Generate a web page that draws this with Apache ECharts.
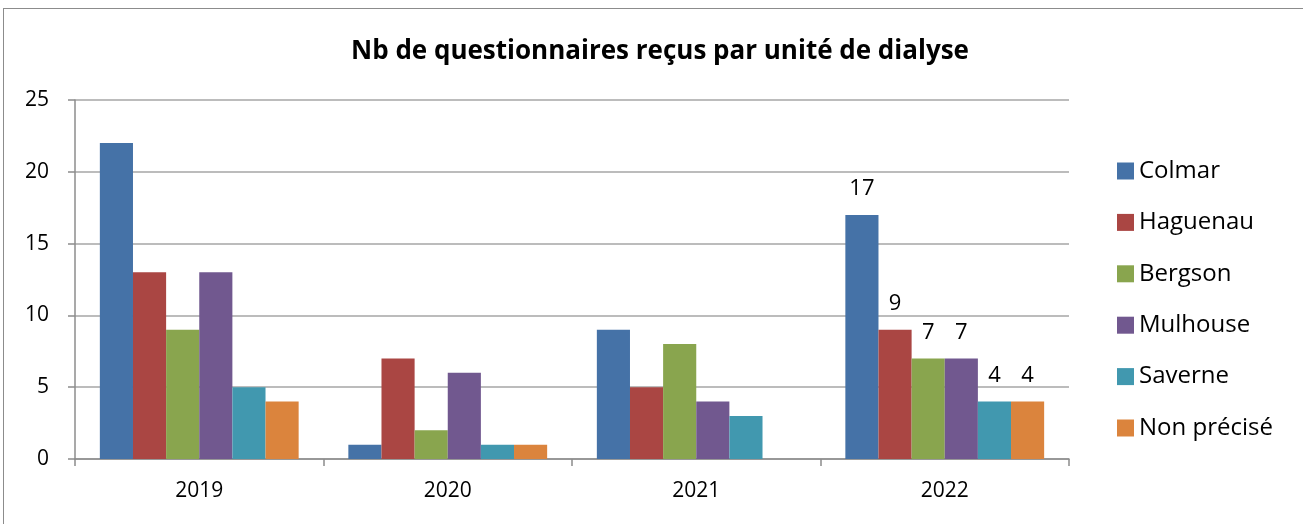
<!DOCTYPE html>
<html style="height: 100%">
<head>
    <meta charset="UTF-8">
    <title>Nb de questionnaires</title>
    <script src="https://cdn.jsdelivr.net/npm/echarts@6.0.0/dist/echarts.min.js"></script>
    <style>
        body { margin: 0; background: #fff; overflow: hidden; }
        #frame {
            position: absolute; left: 3px; top: 8px; width: 1320px; height: 530px;
            border: 1px solid #8c8c8c; box-sizing: border-box;
        }
        #chart { position: absolute; left: 0; top: 0; width: 1303px; height: 524px; }
    </style>
</head>
<body>
    <div id="frame"></div>
    <div id="chart"></div>
    <script>
        var years = ['2019', '2020', '2021', '2022'];
        var colmar = [22, 1, 9, 17];
        var haguenau = [13, 7, 5, 9];
        var bergson = [9, 2, 8, 7];
        var mulhouse = [13, 6, 4, 7];
        var saverne = [5, 1, 3, 4];
        var nonPrecise = [4, 1, 0, 4];

        var names = ['Colmar', 'Haguenau', 'Bergson', 'Mulhouse', 'Saverne', 'Non précisé'];
        var values = [colmar, haguenau, bergson, mulhouse, saverne, nonPrecise];
        var colors = ['#4572a7', '#aa4643', '#89a54e', '#71588f', '#4198af', '#db843d'];

        var font = '"Open Sans", "DejaVu Sans", sans-serif';

        // une seule année porte les étiquettes (2022)
        var series = names.map(function (n, i) {
            return {
                name: n,
                type: 'bar',
                barGap: '0%',
                barCategoryGap: '20%',
                itemStyle: { color: colors[i] },
                data: values[i].map(function (v, j) {
                    var d = { value: v };
                    if (j === 3) {
                        d.label = { show: true, position: 'top', distance: 15,
                            color: '#000', fontSize: 22, fontFamily: font };
                    }
                    return d;
                })
            };
        });

        var chart = echarts.init(document.getElementById('chart'));
        chart.setOption({
            animation: false,
            title: {
                text: 'Nb de questionnaires reçus par unité de dialyse',
                left: 655, top: 34, textAlign: 'center',
                textStyle: { fontSize: 26, fontWeight: 'bold', color: '#000', fontFamily: font }
            },
            legend: {
                orient: 'vertical',
                left: 1112, top: 154,
                itemWidth: 17, itemHeight: 17, itemGap: 27.4, icon: 'rect',
                textStyle: { fontSize: 24, lineHeight: 24, color: '#000', fontFamily: font }
            },
            grid: { left: 75, right: 234, top: 100, bottom: 65, containLabel: false },
            xAxis: {
                type: 'category',
                data: years,
                axisLine: { lineStyle: { color: '#8c8c8c', width: 1.5 } },
                axisTick: { show: true, length: 7, lineStyle: { color: '#8c8c8c', width: 1.5 } },
                axisLabel: { color: '#000', fontSize: 21, margin: 22, fontFamily: font }
            },
            yAxis: {
                type: 'value',
                min: 0, max: 25, interval: 5,
                axisLine: { show: true, lineStyle: { color: '#8c8c8c', width: 1.5 } },
                axisTick: { show: true, length: 7, lineStyle: { color: '#8c8c8c', width: 1.5 } },
                axisLabel: { color: '#000', fontSize: 21, margin: 26, fontFamily: font },
                splitLine: { lineStyle: { color: '#a6a6a6', width: 1.5 } }
            },
            series: series
        });
    </script>
</body>
</html>
